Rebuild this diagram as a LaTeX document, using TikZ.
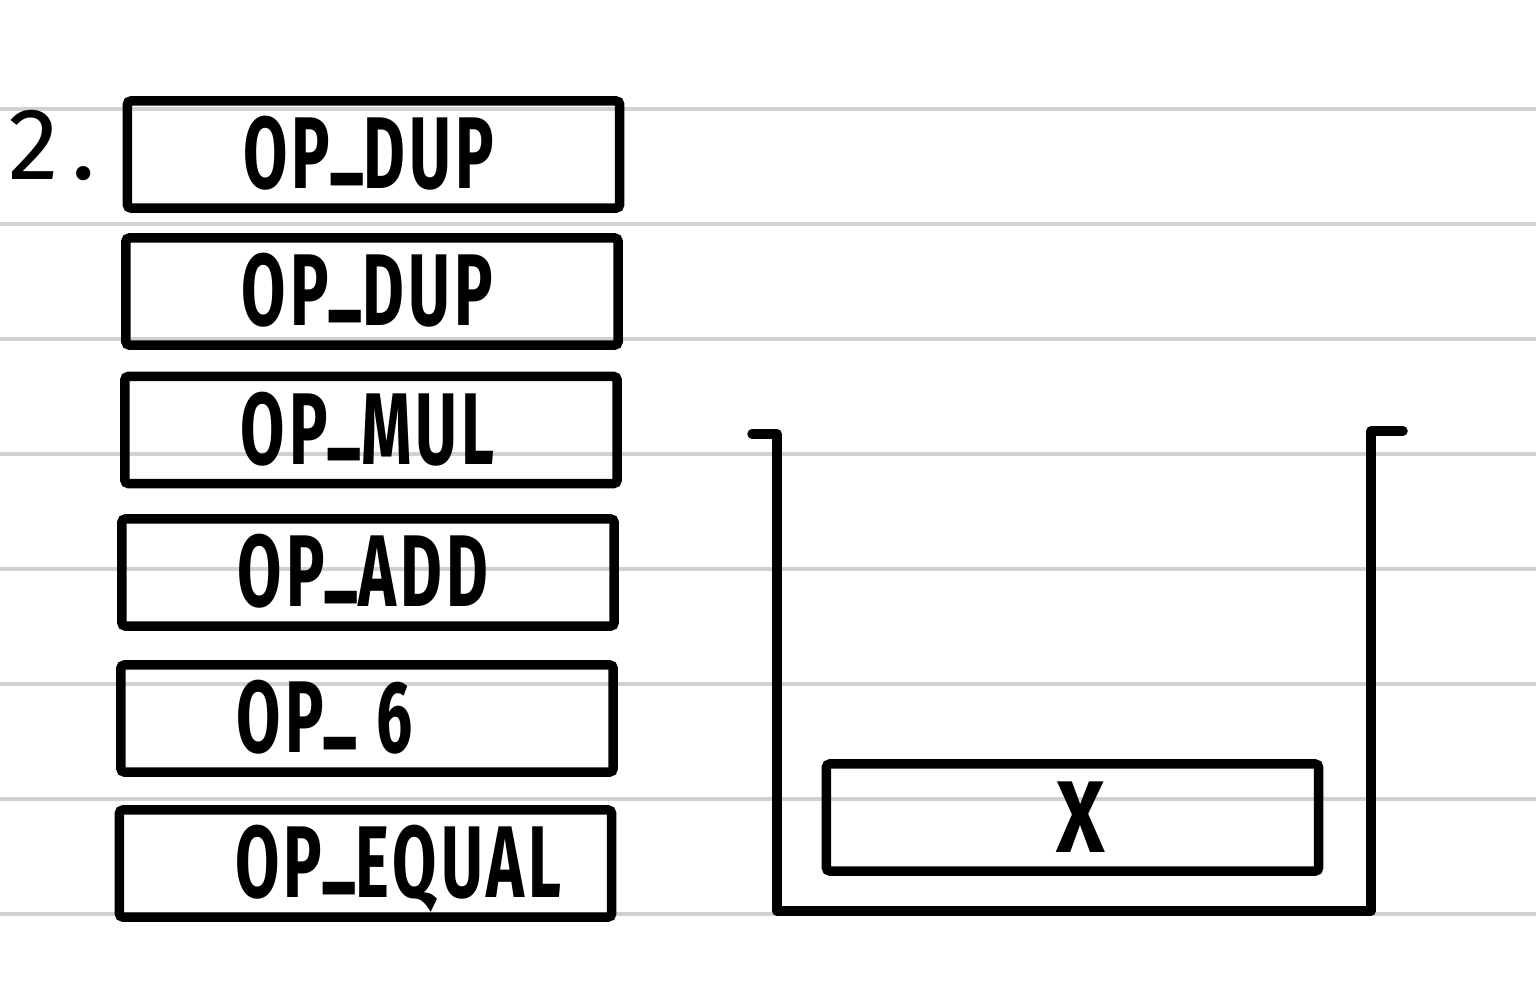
\documentclass[tikz,border=0pt]{standalone}
\usepackage{fontspec}
\newfontfamily\handfont[FakeStretch=0.63, LetterSpace=4]{Fira Sans}
\newfontfamily\widefont[FakeStretch=0.82]{Fira Sans}
\newfontfamily\numfont{Fira Sans}
\usetikzlibrary{positioning}
\newcommand{\us}{\raisebox{0.2em}{\_}}
\tikzset{
  opbox/.style={draw, line width=2.7pt, rounded corners=1pt, minimum width=4.92cm, minimum height=1.07cm, inner sep=0pt},
  optext/.style={font=\handfont\bfseries\fontsize{29}{29}\selectfont, inner sep=0pt, anchor=base west, xshift=1.2cm, yshift=-0.34cm},
  ruleline/.style={draw=black!18, line width=1.2pt},
  wall/.style={line width=2.7pt, line cap=round, line join=round}
}
\begin{document}
\begin{tikzpicture}[x=0.01cm, y=-0.01cm]
\useasboundingbox (0,0) rectangle (1536,1000);
% ruled paper
\foreach \y in {109,224,...,914} \draw[ruleline] (0,\y) -- (1536,\y);
\node[font=\numfont\fontsize{29}{29}\selectfont, inner sep=0pt, anchor=base west] (num) at (8,179) {2\kern0.12em.};
% program
\node[opbox] (dup1) at (373.5,154.5) {};
\node[optext] (dup1t) at (dup1.west) {OP\us DUP};
\node[opbox] (dup2) at (372,291.5) {};
\node[optext] (dup2t) at (dup2.west) {OP\us DUP};
\node[opbox] (mul) at (371,430) {};
\node[optext] (mult) at (mul.west) {OP\us MUL};
\node[opbox] (add) at (368,572.5) {};
\node[optext] (addt) at (add.west) {OP\us ADD};
\node[opbox] (six) at (367,718.5) {};
\node[optext] (sixt) at (six.west) {OP\us\ 6};
\node[opbox] (equal) at (365.5,863.5) {};
\node[optext] (equalt) at (equal.west) {OP\us EQUAL};
% stack
\draw[wall] (752,434) -| (777,911) -| (1371,431) -- (1403,431);
\node[opbox] (xbox) at (1072.5,817.5) {};
\node[font=\widefont\bfseries\fontsize{29}{29}\selectfont, inner sep=0pt, xshift=0.08cm] (xt) at (xbox) {X};
\end{tikzpicture}
\end{document}
